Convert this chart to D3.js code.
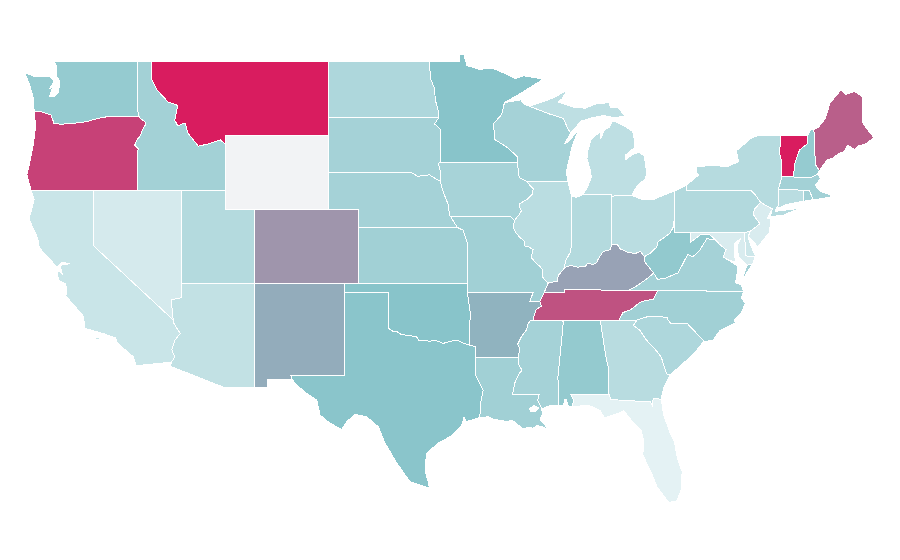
<!DOCTYPE html>
<html>
<head>
<meta charset="utf-8">
<title>US states</title>
<script src="https://cdn.jsdelivr.net/npm/d3@7"></script>
<style>
  html, body { margin: 0; padding: 0; background: #fff; }
  svg { display: block; }
</style>
</head>
<body>
<div id="map"></div>
<script>
var w = 900;
var h = 560;

var noDataColor = '#f2f3f5';
var colorStops = [0, 50, 100];
var colorRange = ['#e8f4f6', '#88c4ca', '#d91c5f'];

// value per state, null = no data
var stateNames = ['WA','OR','CA','NV','ID','MT','UT','AZ','CO','NM','ND','SD','NE','KS','OK','TX','MN','IA','MO','AR','LA','WI','IL','MI','IN','OH','KY','TN','MS','AL','GA','FL','SC','NC','VA','WV','PA','NY','NJ','DE','MD','CT','RI','MA','VT','NH','ME','WY'];
var stateValues = [43,89,16,10,36,100,27,20,64,57,30,35,35,37,50,49,50,34,37,55,37,35,24,22,27,24,60,84,35,44,25,2,30,37,35,45,28,26,8,14,8,24,36,36,100,43,80,null];

// river borders shared by two states, [lon, lat]
var redRiver = [[-100,34.56],[-99.7,34.4],[-99.4,34.37],[-99.2,34.25],[-98.95,34.2],[-98.6,34.15],[-98.3,34.13],[-98.1,34.13],[-97.9,33.88],[-97.55,33.9],[-97.2,33.85],[-96.9,33.9],[-96.6,33.85],[-96.3,33.74],[-96.2,33.75],[-95.8,33.85],[-95.3,33.9],[-94.9,33.75],[-94.48,33.64]];
var missIowa = [[-90.64,42.51],[-90.45,42.35],[-90.15,42.1],[-90.2,41.8],[-90.6,41.5],[-91.05,41.3],[-91.1,41.15],[-90.95,40.9],[-91.1,40.7],[-91.42,40.38]];
var missMissouri = [[-91.42,40.38],[-91.5,40],[-91.35,39.75],[-91.1,39.5],[-90.75,39.25],[-90.7,39],[-90.45,38.95],[-90.15,38.8],[-90.3,38.4],[-90.05,38.15],[-89.7,37.9],[-89.5,37.7],[-89.5,37.3],[-89.13,37]];
var missTenn = [[-89.7,36],[-89.6,35.75],[-89.95,35.55],[-90.1,35.2],[-90.1,35]];
var missArk = [[-90.3,35],[-90.55,34.75],[-90.58,34.5],[-90.95,34.1],[-91.2,33.7],[-91.05,33.45],[-91.17,33]];
var missLouisiana = [[-91.17,33],[-91.1,32.5],[-90.9,32.3],[-91.1,32.1],[-91.4,31.6],[-91.55,31]];
var ohioIndiana = [[-88.03,37.8],[-87.88,37.88],[-87.6,37.95],[-87.1,37.85],[-86.97,37.88],[-86.6,37.9],[-86.43,38.08],[-86.1,38],[-85.84,38.1],[-85.75,38.27],[-85.4,38.7],[-84.9,38.8],[-84.82,39.1]];
var ohioOhio = [[-84.82,39.1],[-84.45,39.1],[-84.25,38.85],[-83.7,38.65],[-83.2,38.6],[-82.85,38.7],[-82.6,38.42]];
var rev = a => a.slice().reverse();

// outlines as [lon, lat], one list of rings per state
var WA = [[[-122.75,49],[-117.04,49],[-117.04,46.42],[-116.92,46],[-119,46],[-119.6,45.92],[-120.5,45.72],[-121.2,45.65],[-122.2,45.58],[-122.7,45.62],[-122.9,46.08],[-123.2,46.15],[-123.55,46.26],[-124.05,46.25],[-124.1,47],[-124.4,47.8],[-124.7,48.38],[-124,48.15],[-123,48.15],[-122.7,47.9],[-123,47.5],[-122.8,47.6],[-123,47.1],[-122.7,47.05],[-122.4,47.3],[-122.3,47.9],[-122.55,48.2],[-122.5,48.7]]];
var OR = [[[-124.05,46.25],[-123.55,46.26],[-123.2,46.15],[-122.9,46.08],[-122.7,45.62],[-122.2,45.58],[-121.2,45.65],[-120.5,45.72],[-119.6,45.92],[-119,46],[-116.92,46],[-116.78,45.85],[-116.55,45.75],[-116.46,45.6],[-116.67,45.3],[-116.85,44.95],[-117.05,44.75],[-117.22,44.45],[-116.97,44.25],[-117.03,44.15],[-117.03,42],[-120,42],[-124.25,42],[-124.55,42.85],[-124.4,43.3],[-124.1,44.5],[-123.95,45.5]]];
var CA = [[[-124.25,42],[-120,42],[-120,39],[-114.6,35],[-114.6,34.87],[-114.13,34.27],[-114.5,33.9],[-114.7,33.4],[-114.5,33],[-114.72,32.72],[-117.12,32.53],[-117.3,33],[-118.4,33.75],[-118.5,34.02],[-119.3,34.25],[-120.6,34.55],[-120.7,35.2],[-121.9,36.3],[-121.85,36.6],[-121.9,36.95],[-122.4,37.15],[-122.5,37.7],[-122.15,37.5],[-122.3,37.95],[-121.6,38.05],[-122.2,38.12],[-122.5,37.85],[-123,38.3],[-123.7,38.9],[-123.8,39.4],[-124.4,40.45],[-124.05,41.5]],[[-120.15,34],[-119.6,34.05],[-119.6,33.95],[-120.15,33.92]]];
var NV = [[[-120,42],[-117.03,42],[-114.04,42],[-114.04,36.2],[-114.75,36.1],[-114.6,35],[-120,39]]];
var ID = [[[-117.04,49],[-116.05,49],[-116.05,47.97],[-115.7,47.43],[-114.95,46.78],[-114.3,46.6],[-114.5,45.8],[-114.3,45.5],[-113.8,45.65],[-113.6,45.1],[-112.9,44.4],[-112.3,44.5],[-111.4,44.73],[-111.05,44.5],[-111.05,42],[-114.04,42],[-117.03,42],[-117.03,44.15],[-116.97,44.25],[-117.22,44.45],[-117.05,44.75],[-116.85,44.95],[-116.67,45.3],[-116.46,45.6],[-116.55,45.75],[-116.78,45.85],[-116.92,46],[-117.04,46.42]]];
var MT = [[[-116.05,49],[-104.05,49],[-104.05,45.94],[-104.05,45],[-111.05,45],[-111.05,44.5],[-111.4,44.73],[-112.3,44.5],[-112.9,44.4],[-113.6,45.1],[-113.8,45.65],[-114.3,45.5],[-114.5,45.8],[-114.3,46.6],[-114.95,46.78],[-115.7,47.43],[-116.05,47.97]]];
var WY = [[[-111.05,45],[-104.05,45],[-104.05,43],[-104.05,41],[-109.05,41],[-111.05,41],[-111.05,42],[-111.05,44.5]]];
var UT = [[[-114.04,42],[-111.05,42],[-111.05,41],[-109.05,41],[-109.05,37],[-114.04,37]]];
var AZ = [[[-114.04,37],[-109.05,37],[-109.05,31.33],[-111.07,31.33],[-114.8,32.5],[-114.72,32.72],[-114.5,33],[-114.7,33.4],[-114.5,33.9],[-114.13,34.27],[-114.6,34.87],[-114.6,35],[-114.75,36.1],[-114.04,36.2]]];
var CO = [[[-109.05,41],[-104.05,41],[-102.05,41],[-102.05,40],[-102.05,37],[-103,37],[-109.05,37]]];
var NM = [[[-109.05,37],[-103,37],[-103,36.5],[-103,32],[-106.62,32],[-106.53,31.78],[-108.2,31.78],[-108.2,31.33],[-109.05,31.33]]];
var ND = [[[-104.05,49],[-97.23,49],[-97.1,48],[-96.85,47.5],[-96.8,46.9],[-96.6,46.3],[-96.56,45.94],[-104.05,45.94]]];
var SD = [[[-104.05,45.94],[-96.56,45.94],[-96.85,45.6],[-96.45,45.3],[-96.45,43.5],[-96.6,43.48],[-96.45,43],[-96.45,42.49],[-96.7,42.6],[-97.2,42.85],[-98,42.77],[-98.5,43],[-104.05,43],[-104.05,45]]];
var NE = [[[-104.05,43],[-98.5,43],[-98,42.77],[-97.2,42.85],[-96.7,42.6],[-96.45,42.49],[-96.3,42],[-96.1,41.6],[-95.9,41.2],[-95.85,40.7],[-95.75,40.58],[-95.3,40],[-102.05,40],[-102.05,41],[-104.05,41]]];
var KS = [[[-102.05,40],[-95.3,40],[-94.9,39.85],[-94.6,39.1],[-94.62,37],[-102.05,37]]];
var OK = [[[-103,37],[-102.05,37],[-94.62,37],[-94.62,36.5],[-94.43,35.4],...rev(redRiver),[-100,36.5],[-103,36.5]]];
var TX = [[[-103,36.5],[-100,36.5],...redRiver,[-94.04,33.55],[-94.04,33],[-94.04,32],[-93.55,31.2],[-93.7,30.6],[-93.7,30.1],[-93.84,29.72],[-94.7,29.5],[-94.85,29.75],[-95,29.3],[-95.8,28.69],[-96.6,28.35],[-97.1,28],[-97.39,27.8],[-97.5,26.9],[-97.3,26.3],[-97.2,25.96],[-97.39,25.96],[-98.52,26.26],[-99.42,27.27],[-100.22,28.35],[-100.67,29.23],[-101.46,29.77],[-102.26,29.9],[-102.82,29.5],[-103.16,29.09],[-103.95,29.42],[-104.63,29.86],[-104.86,30.68],[-105.54,31.04],[-106.22,31.49],[-106.53,31.78],[-106.62,32],[-103,32]]];
var MN = [[[-97.23,49],[-95.15,49],[-95.15,49.38],[-94.85,49.33],[-94.65,48.75],[-93.8,48.55],[-92.95,48.62],[-92,48.3],[-91.4,48.05],[-90.8,48.2],[-90,48.1],[-89.5,48],[-90.9,47.3],[-92.1,46.75],[-92.3,46.1],[-92.85,45.6],[-92.75,44.75],[-91.95,44.35],[-91.25,43.85],[-91.22,43.5],[-96.45,43.5],[-96.45,45.3],[-96.85,45.6],[-96.56,45.94],[-96.6,46.3],[-96.8,46.9],[-96.85,47.5],[-97.1,48]]];
var IA = [[[-96.45,43.5],[-91.22,43.5],[-91.1,42.7],...missIowa,[-91.73,40.61],[-95.75,40.58],[-95.85,40.7],[-95.9,41.2],[-96.1,41.6],[-96.3,42],[-96.45,42.49],[-96.45,43],[-96.6,43.48]]];
var MO = [[[-95.75,40.58],[-91.73,40.61],...missMissouri,[-89.4,36.5],[-89.7,36],[-90.38,36],[-90.15,36.5],[-94.62,36.5],[-94.62,37],[-94.6,39.1],[-94.9,39.85],[-95.3,40]]];
var AR = [[[-94.62,36.5],[-90.15,36.5],[-90.38,36],...missTenn,...missArk,[-94.04,33],[-94.04,33.55],[-94.48,33.64],[-94.43,35.4]]];
var LA = [[[-94.04,33],...missLouisiana,[-89.73,31],[-89.85,30.65],[-89.55,30.2],[-89.6,30.15],[-89.48,29.97],[-89.69,29.6],[-89.4,29.4],[-89.15,29.05],[-89.45,29.2],[-89.9,29.3],[-90.16,29.15],[-90.5,29.2],[-90.84,29.1],[-91.2,29.35],[-91.4,29.5],[-91.73,29.6],[-91.85,29.5],[-92.41,29.58],[-92.8,29.62],[-93.2,29.77],[-93.84,29.72],[-93.7,30.1],[-93.7,30.6],[-93.55,31.2],[-94.04,32]],[[-90.4,30.2],[-90.1,30.38],[-89.75,30.25],[-90.05,30.05],[-90.35,30.08]]];
var WI = [[[-92.1,46.75],[-91,46.9],[-90.75,46.65],[-90.4,46.55],[-89.1,46.15],[-88.1,45.9],[-87.8,45.35],[-87.6,45.1],[-88,44.55],[-87.75,44.65],[-87.05,45.3],[-87.5,44.4],[-87.7,43.7],[-87.9,43],[-87.8,42.5],[-90.64,42.51],[-91.1,42.7],[-91.22,43.5],[-91.25,43.85],[-91.95,44.35],[-92.75,44.75],[-92.85,45.6],[-92.3,46.1]]];
var IL = [[[-90.64,42.51],[-87.8,42.5],[-87.6,41.85],[-87.53,41.7],[-87.53,39.35],[-87.6,38.7],[-87.95,38.2],[-88.03,37.8],[-88.45,37.4],[-88.5,37.1],...rev(missMissouri),...rev(missIowa).slice(1,-1)]];
var MI = [[[-86.82,41.76],[-86.5,42.1],[-86.2,42.7],[-86.3,43.2],[-86.5,43.7],[-86.45,44.1],[-86.25,44.7],[-85.95,44.95],[-85.6,45.15],[-85.55,44.8],[-85.35,45.25],[-85,45.4],[-84.75,45.78],[-84.4,45.65],[-83.9,45.45],[-83.4,45.2],[-83.3,44.85],[-83.3,44.3],[-83.9,43.9],[-83.9,43.65],[-83.4,43.95],[-82.95,44.07],[-82.6,43.85],[-82.45,43],[-82.5,42.65],[-83.1,42.25],[-83.45,41.73],[-84.8,41.7],[-84.8,41.76]],[[-90.4,46.55],[-89.1,46.9],[-88.45,47.15],[-87.8,47.45],[-88.2,46.95],[-88.45,46.78],[-87.4,46.5],[-86.6,46.45],[-85.9,46.68],[-85,46.75],[-84.9,46.5],[-84.4,46.5],[-84.1,46.2],[-83.9,46],[-84.7,45.95],[-85.4,46.05],[-86.3,45.9],[-86.9,45.75],[-87.6,45.1],[-87.8,45.35],[-88.1,45.9],[-89.1,46.15]],[[-89.2,47.9],[-88.6,48.15],[-88.5,48.2],[-88.9,48.05]]];
var IN = [[[-87.53,41.7],[-87.2,41.63],[-86.82,41.76],[-84.8,41.76],[-84.8,41.7],...rev(ohioIndiana),[-87.95,38.2],[-87.6,38.7],[-87.53,39.35]]];
var OH = [[[-84.8,41.7],[-83.45,41.73],[-82.7,41.5],[-82,41.5],[-81.3,41.75],[-80.52,41.98],[-80.52,40.64],[-80.65,40],[-80.85,39.7],[-81.7,39.2],[-81.75,38.95],[-82.2,38.6],...rev(ohioOhio)]];
var KY = [[[-89.13,37],[-88.5,37.1],[-88.45,37.4],...ohioIndiana,...ohioOhio.slice(1),[-82.6,38.17],[-81.97,37.54],[-82.3,37.3],[-83.1,36.85],[-83.68,36.6],[-88.05,36.65],[-88.05,36.5],[-89.4,36.5]]];
var TN = [[[-89.4,36.5],[-88.05,36.5],[-88.05,36.65],[-83.68,36.6],[-81.68,36.59],[-82,36.12],[-82.6,36.03],[-82.9,35.95],[-83.5,35.57],[-84.05,35.4],[-84.32,35],[-85.6,35],[-88.2,35],...rev(missTenn)]];
var MS = [[[-90.3,35],[-88.2,35],[-88.1,34.9],[-88.47,31.9],[-88.4,30.37],[-89,30.38],[-89.55,30.2],[-89.85,30.65],[-89.73,31],...rev(missLouisiana),...rev(missArk).slice(1)]];
var AL = [[[-88.2,35],[-85.6,35],[-85.18,32.87],[-85,32.3],[-85.05,31.55],[-85,31],[-87.6,31],[-87.4,30.65],[-87.5,30.3],[-87.75,30.3],[-87.9,30.7],[-88,30.7],[-88.1,30.35],[-88.4,30.37],[-88.47,31.9],[-88.1,34.9]]];
var GA = [[[-85.6,35],[-84.32,35],[-83.1,35],[-83.35,34.7],[-82.9,34.45],[-82.5,33.95],[-81.9,33.45],[-81.45,33],[-81.1,32.1],[-80.85,32.03],[-81.3,31.3],[-81.45,30.72],[-82,30.75],[-82.05,30.36],[-82.2,30.57],[-84.86,30.7],[-85,31],[-85.05,31.55],[-85,32.3],[-85.18,32.87]]];
var FL = [[[-87.6,31],[-85,31],[-84.86,30.7],[-82.2,30.57],[-82.05,30.36],[-82,30.75],[-81.45,30.72],[-81.3,29.9],[-80.9,29],[-80.55,28.4],[-80.35,27.5],[-80.03,26.8],[-80.1,25.8],[-80.4,25.2],[-80.9,25.15],[-81.2,25.4],[-81.75,26],[-82.1,26.7],[-82.7,27.7],[-82.65,28.5],[-82.8,29],[-83.4,29.5],[-84,30.1],[-84.4,29.95],[-85.3,29.7],[-85.6,30.1],[-86.4,30.4],[-87.5,30.3],[-87.4,30.65]]];
var SC = [[[-83.1,35],[-82.3,35.2],[-81.05,35.15],[-81.05,35.05],[-80.8,34.82],[-79.67,34.8],[-78.55,33.86],[-79.2,33.2],[-79.9,32.7],[-80.85,32.03],[-81.1,32.1],[-81.45,33],[-81.9,33.45],[-82.5,33.95],[-82.9,34.45],[-83.35,34.7]]];
var NC = [[[-81.68,36.59],[-75.87,36.55],[-76,36.2],[-75.75,35.9],[-76,35.4],[-76.5,35],[-76.4,34.85],[-77.5,34.4],[-77.95,33.87],[-78.55,33.86],[-79.67,34.8],[-80.8,34.82],[-81.05,35.05],[-81.05,35.15],[-82.3,35.2],[-83.1,35],[-84.32,35],[-84.05,35.4],[-83.5,35.57],[-82.9,35.95],[-82.6,36.03],[-82,36.12]]];
var VA = [[[-83.68,36.6],[-83.1,36.85],[-82.3,37.3],[-81.97,37.54],[-81.7,37.2],[-81.2,37.25],[-80.3,37.55],[-79.65,38.55],[-79.3,38.42],[-78.85,38.75],[-78.35,39.4],[-77.75,39.32],[-77.5,39.1],[-77.05,38.8],[-77.25,38.4],[-76.95,38.27],[-76.25,37.9],[-76.3,37.5],[-76.4,37],[-76,36.9],[-75.87,36.55],[-81.68,36.59]],[[-75.65,37.95],[-75.25,38.03],[-75.95,37.15]]];
var WV = [[[-80.52,40.64],[-80.52,39.72],[-79.48,39.72],[-79.48,39.2],[-78.8,39.6],[-78.2,39.65],[-77.75,39.32],[-78.35,39.4],[-78.85,38.75],[-79.3,38.42],[-79.65,38.55],[-80.3,37.55],[-81.2,37.25],[-81.7,37.2],[-81.97,37.54],[-82.6,38.17],[-82.6,38.42],[-82.2,38.6],[-81.75,38.95],[-81.7,39.2],[-80.85,39.7],[-80.65,40]]];
var PA = [[[-80.52,41.98],[-79.76,42.27],[-79.76,42],[-75.35,42],[-75.05,41.75],[-74.7,41.36],[-75.13,40.98],[-75.2,40.7],[-74.75,40.2],[-75.4,39.8],[-75.8,39.72],[-79.48,39.72],[-80.52,39.72],[-80.52,40.64]]];
var NY = [[[-79.76,42.27],[-79.76,42],[-75.35,42],[-75.05,41.75],[-74.7,41.36],[-73.9,41],[-74,40.7],[-74,40.6],[-73.2,40.65],[-72,41.05],[-72.6,40.98],[-73.7,40.87],[-73.65,41],[-73.5,41.2],[-73.5,42.05],[-73.25,42.75],[-73.28,43.6],[-73.4,44],[-73.35,45],[-74.7,45],[-75.3,44.85],[-76.35,44.15],[-76.2,43.55],[-77,43.28],[-78,43.37],[-79.05,43.27],[-79.05,42.95],[-78.9,42.85]]];
var NJ = [[[-74.7,41.36],[-73.9,41],[-74.25,40.5],[-74,40.45],[-74.1,39.75],[-74.9,38.95],[-75.2,39.25],[-75.55,39.5],[-75.4,39.8],[-74.75,40.2],[-75.2,40.7],[-75.13,40.98]]];
var DE = [[[-75.8,39.72],[-75.4,39.8],[-75.55,39.5],[-75.4,39.1],[-75.05,38.45],[-75.7,38.46]]];
var MD = [[[-79.48,39.72],[-75.8,39.72],[-75.7,38.46],[-75.05,38.45],[-75.25,38.03],[-75.65,37.95],[-75.9,38.2],[-76.2,38.4],[-76.3,39],[-76.05,39.4],[-76.45,39.15],[-76.5,38.5],[-76.35,38.1],[-76.95,38.27],[-77.25,38.4],[-77.05,38.8],[-77.5,39.1],[-77.75,39.32],[-78.2,39.65],[-78.8,39.6],[-79.48,39.2]]];
var CT = [[[-73.65,41],[-73.5,41.2],[-73.5,42.05],[-71.8,42.02],[-71.8,41.42],[-72.9,41.25]]];
var RI = [[[-71.8,42.02],[-71.38,42.02],[-71.15,41.5],[-71.8,41.42]]];
var MA = [[[-73.5,42.05],[-73.25,42.75],[-72.46,42.73],[-71.3,42.7],[-70.85,42.87],[-70.6,42.65],[-71,42.3],[-70.65,41.95],[-70,41.78],[-70,42.05],[-69.95,41.65],[-70.65,41.55],[-71.15,41.5],[-71.38,42.02],[-71.8,42.02]],[[-70.3,41.3],[-69.95,41.3],[-70,41.22],[-70.3,41.22]]];
var VT = [[[-73.35,45],[-71.5,45],[-71.55,44.5],[-72.05,44.2],[-72.4,43.4],[-72.46,42.73],[-73.25,42.75],[-73.28,43.6],[-73.4,44]]];
var NH = [[[-71.5,45],[-71.3,45.3],[-71.08,45.3],[-70.98,43.4],[-70.7,43.07],[-70.85,42.87],[-71.3,42.7],[-72.46,42.73],[-72.4,43.4],[-72.05,44.2],[-71.55,44.5]]];
var ME = [[[-71.08,45.3],[-70.8,45.4],[-70.3,45.9],[-70,46.7],[-69.23,47.46],[-68.9,47.2],[-68.3,47.35],[-67.8,47.07],[-67.8,45.7],[-67.45,45.3],[-67,44.85],[-67.6,44.5],[-68.1,44.4],[-68.3,44.2],[-68.8,44.45],[-69,44.1],[-69.4,44],[-69.8,43.75],[-70.2,43.65],[-70.7,43.07],[-70.98,43.4]]];

var stateRings = [WA,OR,CA,NV,ID,MT,UT,AZ,CO,NM,ND,SD,NE,KS,OK,TX,MN,IA,MO,AR,LA,WI,IL,MI,IN,OH,KY,TN,MS,AL,GA,FL,SC,NC,VA,WV,PA,NY,NJ,DE,MD,CT,RI,MA,VT,NH,ME,WY];

// geoPath expects closed rings
var states = stateNames.map((name, i) => ({
    type: 'Feature',
    properties: { name: name, value: stateValues[i] },
    geometry: { type: 'Polygon', coordinates: stateRings[i].map(r => r.concat([r[0]])) }
}));

// the map is a plain lon/lat grid, stretched in y
var x = d3.scaleLinear().domain([-124.7, -66.95]).range([24.6, 874.7]);
var y = d3.scaleLinear().domain([49, 25]).range([61, 505]);

var color = d3.scaleLinear().domain(colorStops).range(colorRange);

var projection = d3.geoTransform({
    point: function(lon, lat) { this.stream.point(x(lon), y(lat)); }
});
var path = d3.geoPath(projection);

var svg = d3.select('#map')
    .append('svg')
        .attr('width', w)
        .attr('height', h);

svg.selectAll('path')
    .data(states)
    .enter()
    .append('path')
        .attr('d', path)
        .attr('fill-rule', 'evenodd')
        .attr('shape-rendering', 'crispEdges')
        .style('fill', d => d.properties.value === null ? noDataColor : color(d.properties.value))
        .style('stroke', '#fff')
        .style('stroke-width', '1px');
</script>
</body>
</html>
